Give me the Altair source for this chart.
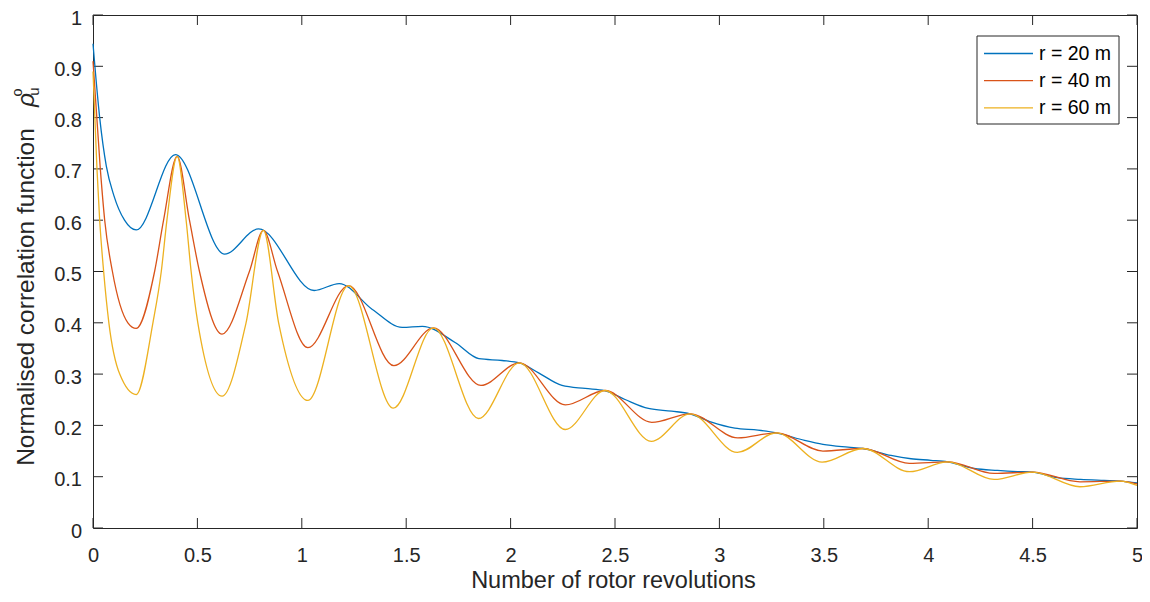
import altair as alt
import pandas as pd

# ---------------- data ----------------
labels = ["r = 20 m", "r = 40 m", "r = 60 m"]
colors = ["#0072BD", "#D95319", "#EDB120"]

x20 = [0, 0.032, 0.064, 0.100, 0.151, 0.207, 0.395, 0.630, 0.793, 1.059, 1.179,
       1.338, 1.481, 1.577, 1.736, 1.848, 1.959, 2.042, 2.134, 2.246, 2.357,
       2.450, 2.548, 2.660, 2.771, 2.859, 2.962, 3.074, 3.185, 3.273, 3.408,
       3.496, 3.616, 3.687, 3.822, 3.918, 4.013, 4.093, 4.220, 4.332, 4.428,
       4.499, 4.619, 4.730, 4.842, 4.920, 5.0]
y20 = [0.944, 0.800, 0.705, 0.648, 0.600, 0.581, 0.728, 0.534, 0.583, 0.463, 0.4765,
       0.426, 0.391, 0.393, 0.361, 0.330, 0.3265, 0.322, 0.3025, 0.278, 0.272,
       0.268, 0.2505, 0.233, 0.2278, 0.2226, 0.2064, 0.1947, 0.1908, 0.1856, 0.1707,
       0.163, 0.1576, 0.155, 0.1414, 0.135, 0.132, 0.129, 0.116, 0.1122, 0.110,
       0.109, 0.098, 0.0947, 0.0927, 0.0914, 0.088]

x40 = [0, 0.035, 0.056, 0.093, 0.167, 0.207, 0.295, 0.338, 0.403, 0.462,
       0.510, 0.618, 0.749, 0.816, 0.884, 1.029, 1.224, 1.441, 1.630, 1.858,
       2.042, 2.262, 2.452, 2.676, 2.860, 3.088, 3.273, 3.496, 3.687, 3.910,
       4.093, 4.316, 4.499, 4.727, 4.920, 5.0]
y40 = [0.910, 0.700, 0.600, 0.500, 0.400, 0.389, 0.500, 0.600, 0.7245, 0.600,
       0.500, 0.378, 0.500, 0.580, 0.500, 0.3515, 0.4726, 0.3165, 0.390, 0.278,
       0.322, 0.240, 0.268, 0.206, 0.2226, 0.1757, 0.1856, 0.150, 0.155, 0.126,
       0.129, 0.1064, 0.109, 0.090, 0.0914, 0.086]

x60 = [0, 0.019, 0.032, 0.051, 0.076, 0.128, 0.207, 0.287, 0.327, 0.354,
       0.403, 0.446, 0.470, 0.502, 0.618, 0.733, 0.816, 0.889, 1.029, 1.224,
       1.438, 1.630, 1.846, 2.042, 2.262, 2.452, 2.674, 2.860, 3.086, 3.273,
       3.492, 3.687, 3.910, 4.093, 4.316, 4.499, 4.727, 4.920, 5.0]
y60 = [0.890, 0.700, 0.600, 0.500, 0.400, 0.300, 0.260, 0.400, 0.500, 0.600,
       0.7245, 0.600, 0.500, 0.400, 0.257, 0.400, 0.580, 0.400, 0.2486, 0.4726,
       0.2336, 0.390, 0.2135, 0.322, 0.192, 0.268, 0.169, 0.2226, 0.1473, 0.1856,
       0.1284, 0.155, 0.1097, 0.129, 0.0947, 0.109, 0.0804, 0.0914, 0.083]

x_ticks = [0, 0.5, 1, 1.5, 2, 2.5, 3, 3.5, 4, 4.5, 5]
y_ticks = [0, 0.1, 0.2, 0.3, 0.4, 0.5, 0.6, 0.7, 0.8, 0.9, 1]

x_title = "Number of rotor revolutions"
y_title = "Normalised correlation function"
y_symbol, y_sub, y_sup = "\u03c1", "u", "o"

# ---------------- styling ----------------
W, H = 1044, 513
FONT = "Liberation Sans"
AX = "#262626"
TICK = 10

xscale = alt.Scale(domain=[0, 5], nice=False, zero=False)
yscale = alt.Scale(domain=[0, 1], nice=False, zero=False)

xaxis = alt.Axis(values=x_ticks, format="~g", ticks=False, tickSize=0, domain=False,
                 grid=False, labelFont=FONT, labelFontSize=20, labelColor=AX,
                 labelPadding=17, labelFlush=False, labelOverlap=False, labelBound=False,
                 title=x_title, titleFont=FONT, titleFontSize=23.5, titleFontWeight="normal",
                 titleColor=AX, titleBaseline="alphabetic", titleY=59, titleX=520)
yaxis = alt.Axis(values=y_ticks, format="~g", ticks=False, tickSize=0, domain=False,
                 grid=False, labelFont=FONT, labelFontSize=20, labelColor=AX,
                 labelPadding=11.5, labelBaseline="middle", labelOffset=3,
                 labelFlush=False, labelOverlap=False, labelBound=False, title=None)

X = alt.X("x:Q", scale=xscale, axis=xaxis)
Y = alt.Y("y:Q", scale=yscale, axis=yaxis)

xt = pd.DataFrame({"x": x_ticks})
yt = pd.DataFrame({"y": y_ticks})

tick_layers = [
    alt.Chart(xt).mark_rule(color=AX, strokeWidth=1).encode(x=X, y=alt.value(H), y2=alt.value(H - TICK)),
    alt.Chart(xt).mark_rule(color=AX, strokeWidth=1).encode(x=X, y=alt.value(0), y2=alt.value(TICK)),
    alt.Chart(yt).mark_rule(color=AX, strokeWidth=1).encode(y=Y, x=alt.value(0), x2=alt.value(TICK)),
    alt.Chart(yt).mark_rule(color=AX, strokeWidth=1).encode(y=Y, x=alt.value(W), x2=alt.value(W - TICK)),
]

line_layers = []
for xs, ys, c in zip([x20, x40, x60], [y20, y40, y60], colors):
    df = pd.DataFrame({"x": xs, "y": ys})
    line_layers.append(
        alt.Chart(df).mark_line(interpolate="monotone", strokeWidth=1.3, color=c).encode(x=X, y=Y)
    )

# ---------------- legend (box, strokes, labels) ----------------
LX0, LX1, LY0, LY1 = 884, 1026, 21, 109
ROW0, ROWSTEP = 38.5, 27.2
legend_layers = [
    alt.Chart().mark_rect(fill="white", stroke=AX, strokeWidth=1).encode(
        x=alt.value(LX0), x2=alt.value(LX1), y=alt.value(LY0), y2=alt.value(LY1))
]
for i, (lab, c) in enumerate(zip(labels, colors)):
    ry = ROW0 + i * ROWSTEP
    legend_layers.append(
        alt.Chart().mark_rule(color=c, strokeWidth=1.3).encode(
            x=alt.value(891), x2=alt.value(940), y=alt.value(ry)))
    legend_layers.append(
        alt.Chart().mark_text(text=lab, font=FONT, fontSize=19.5, color="#000000",
                              align="left", baseline="middle").encode(
            x=alt.value(946), y=alt.value(ry)))

# ---------------- y-axis title with rho, subscript u and superscript o ----------------
title_layers = [
    alt.Chart().mark_text(text=y_title, font=FONT, fontSize=24.5, color=AX, angle=270,
                          align="center", baseline="alphabetic").encode(
        x=alt.value(-59), y=alt.value(282)),
    alt.Chart().mark_text(text=y_symbol, font=FONT, fontSize=24.5, fontStyle="italic",
                          color=AX, angle=270, align="center", baseline="alphabetic").encode(
        x=alt.value(-59.5), y=alt.value(85)),
    alt.Chart().mark_text(text=y_sub, font=FONT, fontSize=15, color=AX, angle=270,
                          align="center", baseline="alphabetic").encode(
        x=alt.value(-54), y=alt.value(76.5)),
    alt.Chart().mark_text(text=y_sup, font=FONT, fontSize=14.5, color=AX, angle=270,
                          align="center", baseline="alphabetic").encode(
        x=alt.value(-71.5), y=alt.value(77.5)),
]

chart = alt.layer(*tick_layers, *line_layers, *legend_layers, *title_layers).properties(
    width=W, height=H,
    padding={"left": 85, "top": 7, "right": 5, "bottom": 66},
    autosize=alt.AutoSizeParams(type="none"),
    background="white",
).configure_view(stroke=AX, strokeWidth=1)

chart.save("out.html", embed_options={"renderer": "svg", "actions": False})
